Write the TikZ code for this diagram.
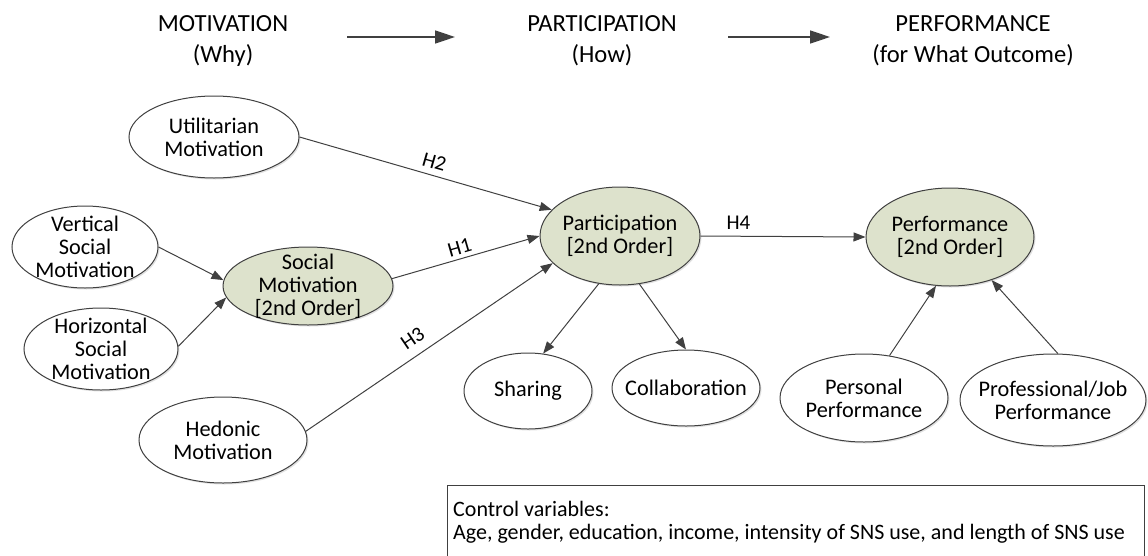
\documentclass[tikz,border=0pt]{standalone}
\usepackage{fontspec}
\setmainfont{Carlito}
\usetikzlibrary{shapes.geometric,arrows.meta,shadows}
\definecolor{linegray}{RGB}{64,64,64}
\definecolor{olivefill}{RGB}{221,226,204}
\begin{document}
\begin{tikzpicture}[x=1pt,y=-1pt,
  ell/.style 2 args={ellipse, draw=linegray, line width=1pt, fill=white, inner sep=0pt,
    minimum width=#1pt, minimum height=#2pt,
    drop shadow={shadow xshift=1.5pt, shadow yshift=-1.5pt, fill=black!20, opacity=0.6}},
  order/.style={fill=olivefill},
  txt/.style={font=\fontsize{22.3}{22.8}\selectfont, align=center, inner sep=0pt},
  hdr/.style={font=\fontsize{24.6}{31}\selectfont, align=center, inner sep=0pt},
  conn/.style={draw=linegray, line width=1pt, -{Triangle[length=12pt,width=9pt]}},
  harrow/.style={draw=linegray, line width=1.6pt, -{Triangle[length=20pt,width=13pt]}},
  hyp/.style={font=\fontsize{21}{22}\selectfont, inner sep=2pt},
  ctrlbox/.style={draw=linegray, line width=1.2pt, inner sep=0pt, anchor=north west,
    minimum width=697pt, minimum height=74pt},
  ctrltext/.style={font=\fontsize{22}{23}\selectfont, align=left, inner sep=0pt, anchor=west}
]
\useasboundingbox (0,0) rectangle (1148,555);

% headers
\node[hdr] (hmot) at (223,40.5) {MOTIVATION\\(Why)};
\node[hdr] (hpart) at (602,40.5) {PARTICIPATION\\(How)};
\node[hdr] (hperf) at (973,40.5) {PERFORMANCE\\(for What Outcome)};
\coordinate (a1s) at (347,37);
\coordinate (a1e) at (455,37);
\coordinate (a2s) at (728,37);
\coordinate (a2e) at (830,37);
\draw[harrow] (a1s) -- (a1e);
\draw[harrow] (a2s) -- (a2e);

% ellipses
\node[ell={170}{82}] (util) at (214,137) {};
\node[txt] (utilt) at (util) {Utilitarian\\Motivation};
\node[ell={146}{82}] (vert) at (85,247) {};
\node[txt] (vertt) at (vert) {Vertical\\Social\\Motivation};
\node[ell={170}{78}, order] (soc) at (308,286) {};
\node[txt] (soct) at (soc) {Social\\Motivation\\{[2nd Order]}};
\node[ell={154}{82}] (hor) at (101,349) {};
\node[txt] (hort) at (hor) {Horizontal\\Social\\Motivation};
\node[ell={168}{86}] (hed) at (223,440) {};
\node[txt] (hedt) at (hed) {Hedonic\\Motivation};
\node[ell={160}{98}, order] (part) at (620,236) {};
\node[txt] (partt) at (part) {Participation\\{[2nd Order]}};
\node[ell={168}{98}, order] (perf) at (950,237) {};
\node[txt] (perft) at (perf) {Performance\\{[2nd Order]}};
\node[ell={128}{76}] (shar) at (528,391) {};
\node[txt] (shart) at (shar) {Sharing};
\node[ell={148}{76}] (coll) at (686,388) {};
\node[txt] (collt) at (coll) {Collaboration};
\node[ell={168}{88}] (pers) at (864,398) {};
\node[txt] (perst) at (pers) {Personal\\Performance};
\node[ell={186}{92}] (prof) at (1053,400) {};
\node[txt] (proft) at (prof) {Professional/Job\\Performance};

% connectors
\draw[conn] (util.east) -- node[hyp, pos=0.52, sloped, above=4pt] (h2) {H2} (part.159);
\draw[conn] (soc.5) -- node[hyp, pos=0.48, sloped, above=2pt] (h1) {H1} (part.west);
\draw[conn] (hed.6) -- node[hyp, pos=0.47, sloped, above=7pt] (h3) {H3} (part.202);
\draw[conn] (vert.east) -- (soc.176);
\draw[conn] (hor.2) -- (soc.188);
\draw[conn] (part.246) -- (shar.68);
\draw[conn] (part.292) -- (coll.north);
\draw[conn] (part.east) -- node[hyp, pos=0.23, above=4pt] (h4) {H4} (perf.west);
\draw[conn] (pers.59) -- (perf.254);
\draw[conn] (prof.84) -- (perf.314);

% control box
\node[ctrlbox] (box) at (447,485) {};
\node[ctrltext] (boxt) at (453,522) {Control variables:\\Age, gender, education, income, intensity of SNS use, and length of SNS use};
\end{tikzpicture}
\end{document}
